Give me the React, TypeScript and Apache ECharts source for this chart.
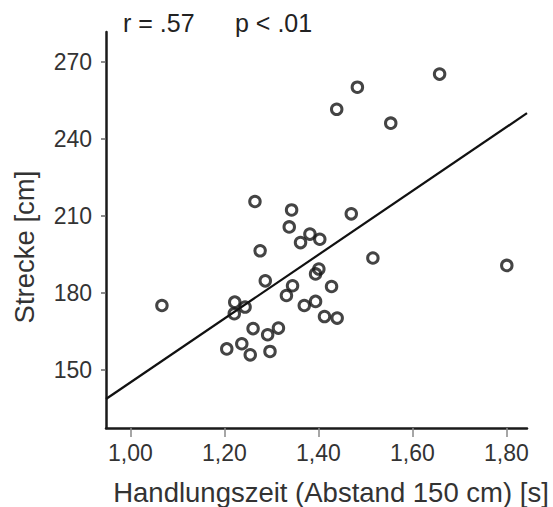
import React, { useEffect, useRef } from "react";
import * as echarts from "echarts";

const handlungszeit: number[] = [
  1.067, 1.205, 1.221, 1.222, 1.237, 1.244, 1.255, 1.261, 1.265, 1.276,
  1.287, 1.292, 1.297, 1.315, 1.332, 1.338, 1.343, 1.345, 1.362, 1.37,
  1.382, 1.394, 1.394, 1.401, 1.403, 1.413, 1.428, 1.439, 1.44, 1.47,
  1.483, 1.516, 1.554, 1.658, 1.801,
];
const strecke: number[] = [
  175.0, 158.1, 171.8, 176.3, 160.1, 174.4, 155.8, 166.0, 215.5, 196.3,
  184.6, 163.6, 157.1, 166.2, 178.9, 205.6, 212.2, 182.7, 199.5, 175.0,
  202.8, 176.6, 187.3, 189.2, 200.8, 170.7, 182.4, 251.4, 170.1, 210.7,
  260.0, 193.5, 246.0, 265.1, 190.6,
];
const regressionX: number[] = [0.948, 1.844];
const regressionY: number[] = [138.6, 249.9];
const xTicks: number[] = [1.0, 1.2, 1.4, 1.6, 1.8];
const yTicks: number[] = [150, 180, 210, 240, 270];
const statsText = ["r = .57", "p < .01"];
const xName = "Handlungszeit (Abstand 150 cm) [s]";
const yName = "Strecke [cm]";

const FONT = "Liberation Sans, Arial, Helvetica, sans-serif";

export default function App() {
  const ref = useRef<HTMLDivElement>(null);
  useEffect(() => {
    document.body.style.margin = "0";
    if (!ref.current) return;
    const chart = echarts.init(ref.current, null, { renderer: "svg" });
    const points = handlungszeit.map((x, i) => [x, strecke[i]]);
    const line = regressionX.map((x, i) => [x, regressionY[i]]);
    chart.setOption({
      animation: false,
      backgroundColor: "#ffffff",
      grid: { left: 106, right: 26, top: 32, bottom: 79, containLabel: false },
      xAxis: {
        type: "value",
        min: 0.948,
        max: 1.844,
        splitLine: { show: false },
        axisLine: { show: true, onZero: false, lineStyle: { color: "#1a1a1a", width: 2.5 } },
        axisTick: {
          show: true,
          customValues: xTicks,
          length: 9,
          lineStyle: { color: "#888", width: 1.5 },
        },
        axisLabel: {
          customValues: xTicks,
          formatter: (v: number) => v.toFixed(2).replace(".", ","),
          fontSize: 23,
          fontFamily: FONT,
          color: "#333",
          margin: 13,
        },
      },
      yAxis: {
        type: "value",
        min: 127.3,
        max: 281.5,
        splitLine: { show: false },
        axisLine: { show: true, onZero: false, lineStyle: { color: "#1a1a1a", width: 2.5 } },
        axisTick: {
          show: true,
          customValues: yTicks,
          length: 5,
          lineStyle: { color: "#666", width: 1.5 },
        },
        axisLabel: {
          customValues: yTicks,
          fontSize: 23,
          fontFamily: FONT,
          color: "#333",
          margin: 14,
        },
      },
      graphic: [
        {
          type: "text",
          left: 123,
          top: 10,
          style: { text: statsText[0], fontSize: 25, fontFamily: FONT, fill: "#222" },
        },
        {
          type: "text",
          left: 235,
          top: 10,
          style: { text: statsText[1], fontSize: 25, fontFamily: FONT, fill: "#222" },
        },
        {
          type: "text",
          x: 331,
          y: 492,
          style: {
            text: xName,
            fontSize: 27.5,
            fontFamily: FONT,
            fill: "#333",
            align: "center",
            verticalAlign: "middle",
          },
        },
        {
          type: "text",
          x: 24,
          y: 247,
          rotation: Math.PI / 2,
          style: {
            text: yName,
            fontSize: 27.5,
            fontFamily: FONT,
            fill: "#333",
            align: "center",
            verticalAlign: "middle",
          },
        },
      ],
      series: [
        {
          type: "line",
          data: line,
          symbol: "none",
          lineStyle: { color: "#111", width: 2.2 },
          silent: true,
          z: 2,
        },
        {
          type: "scatter",
          data: points,
          symbol: "circle",
          symbolSize: 10.5,
          itemStyle: { color: "rgba(255,255,255,0)", borderColor: "#151515", borderWidth: 3 },
          z: 3,
        },
      ],
    });
    return () => chart.dispose();
  }, []);
  return <div ref={ref} style={{ width: 553, height: 507 }} />;
}
